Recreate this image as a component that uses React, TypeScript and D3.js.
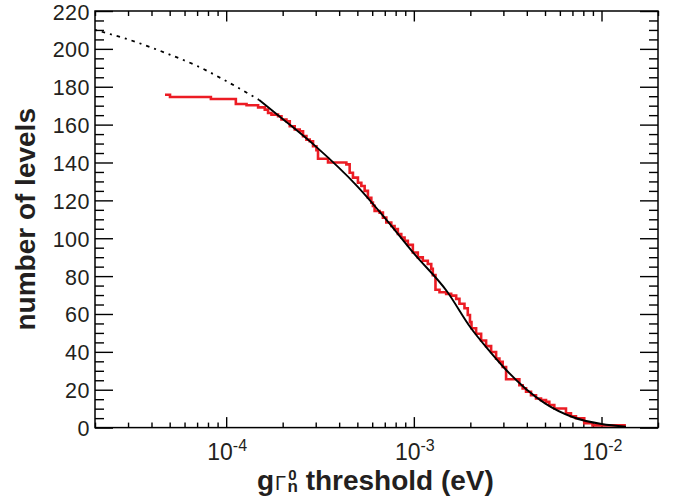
import React, { useEffect, useRef } from "react";
import * as d3 from "d3";

const WIDTH = 680;
const HEIGHT = 499;

// plot frame (pixels)
const plot = { left: 95, right: 658, top: 11, bottom: 427.6 };

// expected number of levels (black curve)
const fitThresholds = [2e-5, 3e-5, 5e-5, 7e-5, 1e-4, 1.5e-4, 2e-4, 3e-4, 5e-4, 7e-4,
    1e-3, 1.5e-3, 2e-3, 2.5e-3, 3e-3, 4e-3, 5e-3, 7e-3, 1e-2, 1.35e-2];
const fitLevels = [210, 205, 197, 191, 183, 173, 163, 148.5, 127.4, 110.8,
    92, 72, 53, 41, 32, 20, 12.8, 5.6, 1.9, 0.5];
// below this threshold the curve is drawn dotted (extrapolation)
const dottedBelow = 1.5e-4;

// observed staircase (red), threshold where the step starts + level after the step
const stepThresholds = [4.72e-5, 5.02e-5, 8.29e-5, 1.126e-4, 1.284e-4, 1.48e-4, 1.606e-4, 1.672e-4,
    1.743e-4, 1.89e-4, 1.971e-4, 2.095e-4, 2.182e-4, 2.319e-4, 2.466e-4, 2.568e-4, 2.677e-4,
    2.787e-4, 2.903e-4, 3.026e-4, 3.086e-4, 3.489e-4, 4.369e-4, 4.55e-4, 4.737e-4, 5.036e-4,
    5.251e-4, 5.468e-4, 5.693e-4, 5.935e-4, 6.053e-4, 6.18e-4, 6.571e-4, 6.842e-4, 7.133e-4,
    7.582e-4, 7.894e-4, 8.221e-4, 8.57e-4, 8.923e-4, 9.292e-4, 9.878e-4, 1.05e-3, 1.116e-3,
    1.187e-3, 1.238e-3, 1.262e-3, 1.304e-3, 1.37e-3, 1.487e-3, 1.581e-3, 1.681e-3, 1.75e-3,
    1.861e-3, 1.938e-3, 1.991e-3, 2.028e-3, 2.147e-3, 2.283e-3, 2.427e-3, 2.581e-3, 2.744e-3,
    2.857e-3, 2.975e-3, 3.101e-3, 3.65e-3, 3.801e-3, 3.962e-3, 4.211e-3, 4.477e-3, 4.761e-3,
    5.061e-3, 5.27e-3, 5.603e-3, 6.466e-3, 6.874e-3, 7.308e-3, 8.091e-3, 8.957e-3, 1.349e-2];
const stepLevels = [175.8, 174.6, 173.5, 170.9, 170.2, 169.1, 167.9, 166.1,
    165.3, 164.4, 162.7, 161.8, 159.1, 157.4, 156.5, 153.9, 152.1,
    151.2, 148.6, 146.5, 142, 140, 139, 134.6, 132, 129.3,
    127.6, 125, 121.4, 118.8, 117.1, 114.4, 113.5, 110.9, 108.3,
    106.5, 104.8, 102.2, 100.4, 98.7, 96.5, 92.5, 89.9, 88.1,
    86.4, 83.8, 80.5, 72.8, 71.5, 70.6, 69.7, 68, 65.4,
    63, 59.5, 55.7, 52.5, 49.6, 46, 43, 39.9, 36.4,
    34.7, 32, 25.5, 22.4, 20.7, 18.9, 17.1, 15.4, 14.5,
    13.6, 11.9, 10.1, 7.5, 6, 4.9, 2.3, 1.2, 1.2];

const yLabelValues = d3.range(0, 221, 20);
const xLabelValues = [1e-4, 1e-3, 1e-2];
const xLabelExponents = ["-4", "-3", "-2"];

const FONT = "'Liberation Sans', Arial, Helvetica, sans-serif";

export default function App() {
    const ref = useRef<SVGSVGElement>(null);

    useEffect(() => {
        const svg = d3.select(ref.current);
        svg.selectAll("*").remove();

        const x = d3.scaleLog().domain([2e-5, 2e-2]).range([plot.left, plot.right]);
        const y = d3.scaleLinear().domain([0, 220]).range([plot.bottom, plot.top]);

        const xTicks = x.ticks();
        const isDecade = (d: number) => Math.abs(Math.log10(d) - Math.round(Math.log10(d))) < 1e-6;
        const xMajor = xTicks.filter(isDecade);
        const xMinor = xTicks.filter((d) => !isDecade(d));
        const yMajor = d3.range(0, 221, 20);
        const yMinor = d3.range(0, 221, 5).filter((d) => d % 20 !== 0);

        // tick marks, all pointing into the frame
        const tickGroup = (axis: any, tx: number, ty: number) => {
            const g = svg.append("g")
                .attr("transform", `translate(${tx},${ty})`)
                .call(axis);
            g.select(".domain").remove();
            g.selectAll("text").remove();
            g.selectAll("line").attr("stroke", "black").attr("stroke-width", 1.4);
        };
        tickGroup(d3.axisTop(x).tickValues(xMajor).tickSize(10.5).tickSizeOuter(0).tickFormat(() => ""), 0, plot.bottom);
        tickGroup(d3.axisTop(x).tickValues(xMinor).tickSize(5).tickSizeOuter(0).tickFormat(() => ""), 0, plot.bottom);
        tickGroup(d3.axisBottom(x).tickValues(xMajor).tickSize(10.5).tickSizeOuter(0).tickFormat(() => ""), 0, plot.top);
        tickGroup(d3.axisBottom(x).tickValues(xMinor).tickSize(5).tickSizeOuter(0).tickFormat(() => ""), 0, plot.top);
        tickGroup(d3.axisRight(y).tickValues(yMajor).tickSize(18).tickSizeOuter(0).tickFormat(() => ""), plot.left, 0);
        tickGroup(d3.axisRight(y).tickValues(yMinor).tickSize(9).tickSizeOuter(0).tickFormat(() => ""), plot.left, 0);
        tickGroup(d3.axisLeft(y).tickValues(yMajor).tickSize(18).tickSizeOuter(0).tickFormat(() => ""), plot.right, 0);
        tickGroup(d3.axisLeft(y).tickValues(yMinor).tickSize(9).tickSizeOuter(0).tickFormat(() => ""), plot.right, 0);

        // clip curves to frame
        svg.append("clipPath").attr("id", "frame-clip")
            .append("rect")
            .attr("x", plot.left).attr("y", plot.top)
            .attr("width", plot.right - plot.left).attr("height", plot.bottom - plot.top);

        const chart = svg.append("g").attr("clip-path", "url(#frame-clip)");

        // red staircase
        const steps = stepThresholds.map((t, i) => [t, stepLevels[i]] as [number, number]);
        const stepLine = d3.line<[number, number]>()
            .x((d) => x(d[0]))
            .y((d) => y(d[1]))
            .curve(d3.curveStepAfter);
        chart.append("path")
            .attr("d", stepLine(steps))
            .attr("fill", "none")
            .attr("stroke", "#ec1c24")
            .attr("stroke-width", 2.6)
            .attr("stroke-linejoin", "miter");

        // black expectation curve
        const fit = fitThresholds.map((t, i) => [t, fitLevels[i]] as [number, number]);
        const smooth = d3.line<[number, number]>()
            .x((d) => x(d[0]))
            .y((d) => y(d[1]))
            .curve(d3.curveMonotoneX);
        chart.append("path")
            .attr("d", smooth(fit.filter((d) => d[0] <= dottedBelow)))
            .attr("fill", "none")
            .attr("stroke", "black")
            .attr("stroke-width", 1.8)
            .attr("stroke-dasharray", "2,5,3.5,5");
        chart.append("path")
            .attr("d", smooth(fit.filter((d) => d[0] >= dottedBelow)))
            .attr("fill", "none")
            .attr("stroke", "black")
            .attr("stroke-width", 1.9);

        // frame
        svg.append("rect")
            .attr("x", plot.left).attr("y", plot.top)
            .attr("width", plot.right - plot.left).attr("height", plot.bottom - plot.top)
            .attr("fill", "none")
            .attr("stroke", "black")
            .attr("stroke-width", 1.5);

        // y tick labels
        svg.append("g").selectAll("text")
            .data(yLabelValues)
            .enter()
            .append("text")
            .attr("x", plot.left - 5)
            .attr("y", (d) => y(d) + 8.5)
            .attr("text-anchor", "end")
            .attr("font-family", FONT)
            .attr("font-size", 21.5)
            .attr("letter-spacing", 0.5)
            .attr("fill", "#231f20")
            .text((d) => d);

        // x tick labels: 10^n
        xLabelValues.forEach((v, i) => {
            const t = svg.append("text")
                .attr("x", x(v) + 1)
                .attr("y", 460)
                .attr("text-anchor", "middle")
                .attr("font-family", FONT)
                .attr("font-size", 23)
                .attr("fill", "#231f20");
            t.append("tspan").text("10");
            t.append("tspan").attr("dy", -9).attr("font-size", 16).text(xLabelExponents[i]);
        });

        // y title
        svg.append("text")
            .attr("transform", `translate(35,${(plot.top + plot.bottom) / 2}) rotate(-90)`)
            .attr("text-anchor", "middle")
            .attr("font-family", FONT)
            .attr("font-size", 28)
            .attr("font-weight", "bold")
            .attr("fill", "#231f20")
            .text("number of levels");

        // x title: g Γ_n^0 threshold (eV)
        const xt = svg.append("text")
            .attr("x", 257)
            .attr("y", 490)
            .attr("font-family", FONT)
            .attr("font-size", 28)
            .attr("font-weight", "bold")
            .attr("fill", "#231f20");
        xt.append("tspan").text("g");
        xt.append("tspan").attr("font-size", 20).attr("font-weight", "normal").attr("dx", 1).text("Γ");
        xt.append("tspan").attr("font-size", 15).attr("dx", 2).attr("dy", -10).text("0");
        xt.append("tspan").attr("font-size", 17).attr("dx", -9).attr("dy", 12).text("n");
        xt.append("tspan").attr("dy", -2).text(" threshold (eV)");
    }, []);

    return (
        <svg
            ref={ref}
            width={WIDTH}
            height={HEIGHT}
            style={{ position: "absolute", left: 0, top: 0, background: "white" }}
        />
    );
}
